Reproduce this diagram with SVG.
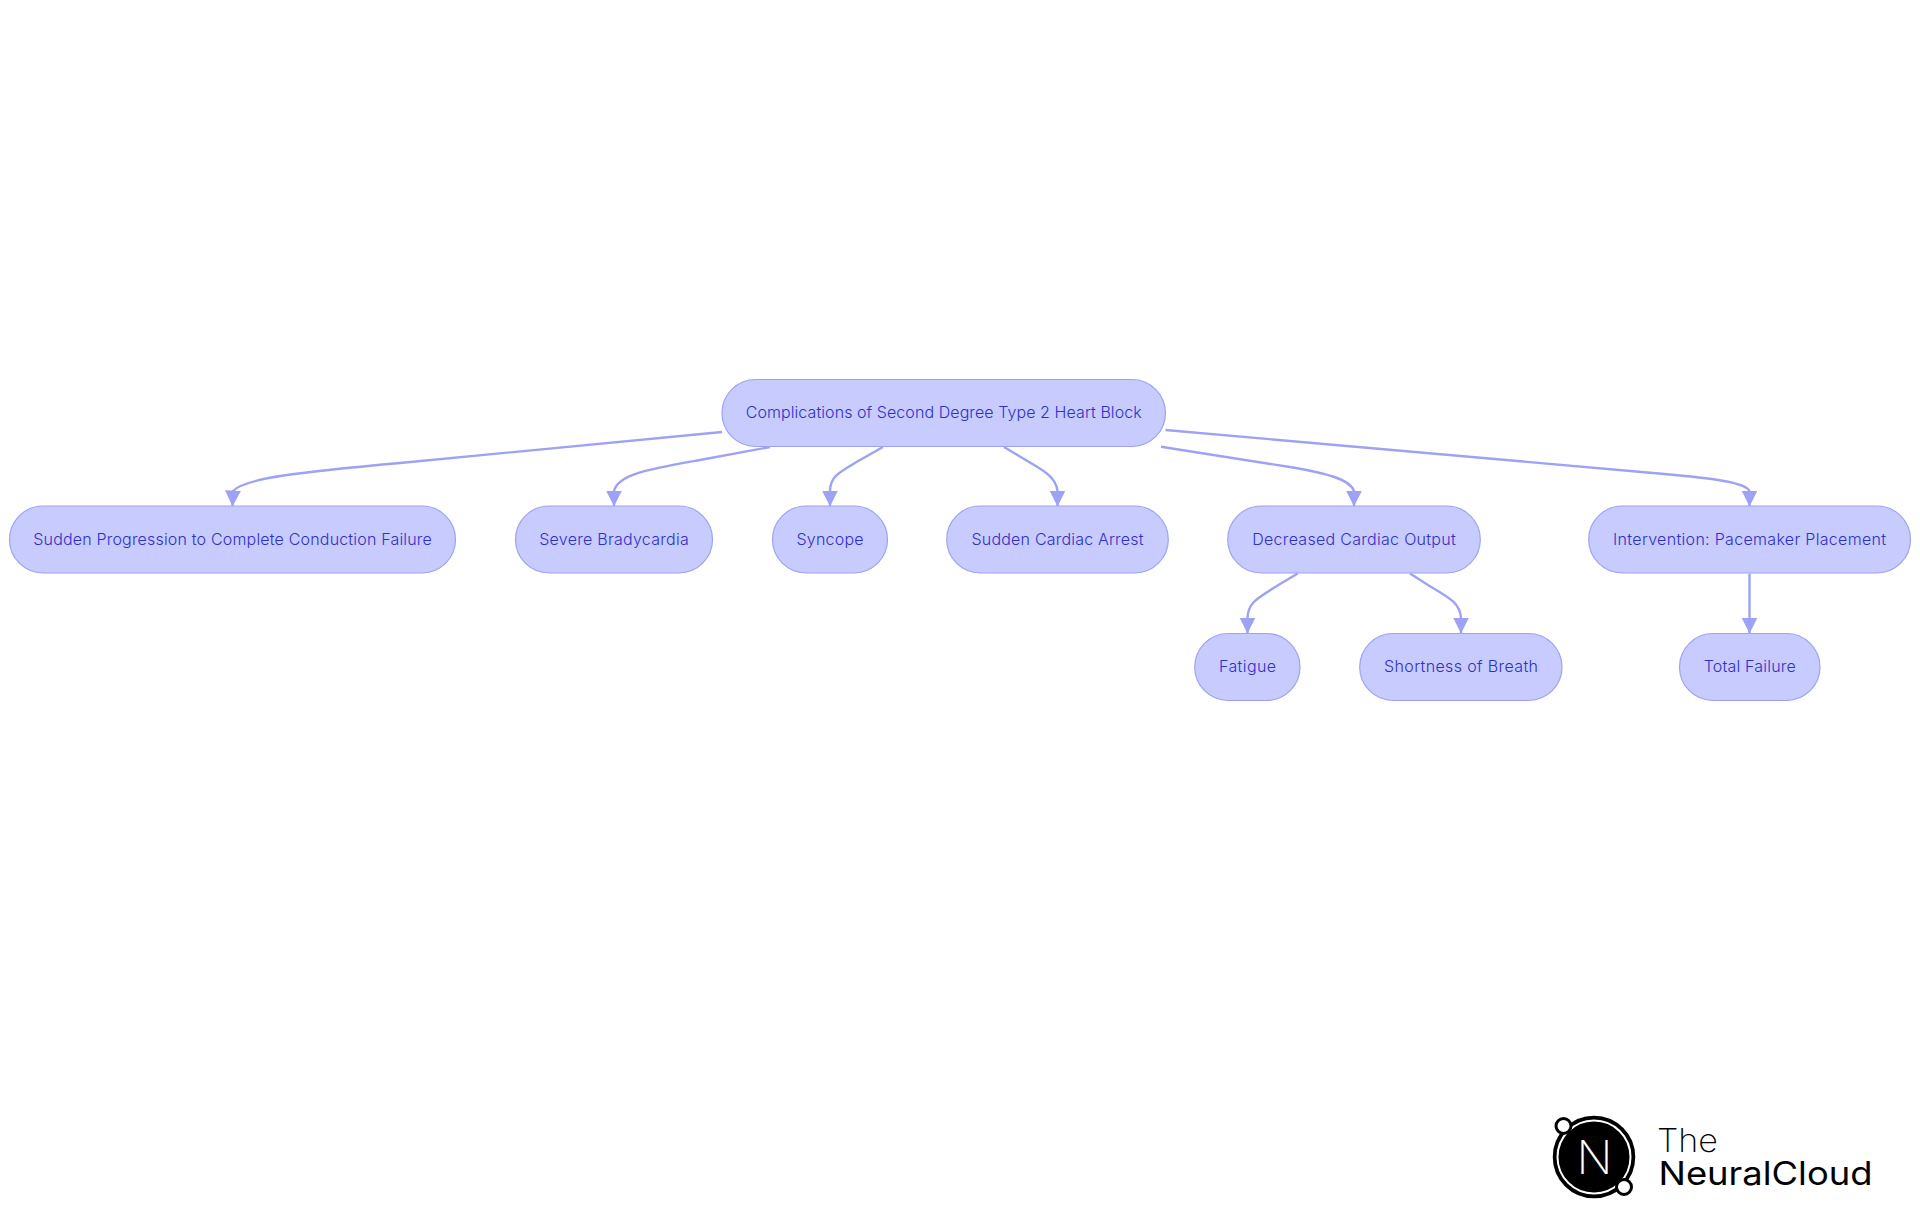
<svg xmlns="http://www.w3.org/2000/svg" width="1920" height="1215" viewBox="0 0 1920 1215">
<style>
.n rect{fill:#c8cbfd;stroke:#9da2f5;stroke-width:1.2}
.n text{font-family:Inter,"Noto Sans",sans-serif;font-size:16px;font-weight:350;fill:#2f2fcc;text-anchor:middle;dominant-baseline:central}
#connectors path{fill:none;stroke:#9da2f5;stroke-width:2.4;marker-end:url(#a)}
.l{font-family:Inter,"Noto Sans",sans-serif;fill:#000}
</style>
<defs><marker id="a" markerUnits="userSpaceOnUse" markerWidth="17" markerHeight="18" refX="16" refY="9" orient="auto"><path d="M0,1L16,9L0,17z" fill="#9da2f5"/></marker></defs>
<rect width="1920" height="1215" fill="#fff"/>
<g id="connectors">
<path d="M722,432L400,463C300,472 245,478 233,491L232.500,506.500"/>
<path d="M770,447L700,460C650,469 618,474 614,491L614,506.500"/>
<path d="M883,447L860,460C840,472 830,476 830,491L830,506.500"/>
<path d="M1004,447L1024,459C1042,470 1056,476 1057.500,491L1057.500,506.500"/>
<path d="M1161,446.700L1290,467C1325,473 1350,479 1354,491L1354,506.500"/>
<path d="M1165.500,430L1650,472.700C1700,477 1745,481 1749.500,491L1749.500,506.500"/>
<path d="M1297.700,573.500L1280,584C1258,598 1248,602 1247.500,618L1247.500,633.500"/>
<path d="M1410,573.500L1428,585C1450,598 1460,603 1461,618L1461,633.500"/>
<path d="M1749.500,573.500L1749.500,633.500"/>
</g>
<g id="root" class="n"><rect x="722" y="379.500" width="443.500" height="67" rx="33.500"/><text x="943.700" y="412" textLength="396" lengthAdjust="spacing">Complications of Second Degree Type 2 Heart Block</text></g>
<g id="n1" class="n"><rect x="9.500" y="506" width="446" height="67" rx="33.500"/><text x="232.500" y="539" textLength="398.500" lengthAdjust="spacing">Sudden Progression to Complete Conduction Failure</text></g>
<g id="n2" class="n"><rect x="515.500" y="506" width="197" height="67" rx="33.500"/><text x="614" y="539" textLength="149.500" lengthAdjust="spacing">Severe Bradycardia</text></g>
<g id="n3" class="n"><rect x="772.500" y="506" width="115" height="67" rx="33.500"/><text x="830" y="539" textLength="67" lengthAdjust="spacing">Syncope</text></g>
<g id="n4" class="n"><rect x="946.700" y="506" width="221.600" height="67" rx="33.500"/><text x="1057.500" y="539" textLength="172" lengthAdjust="spacing">Sudden Cardiac Arrest</text></g>
<g id="n5" class="n"><rect x="1227.700" y="506" width="252.600" height="67" rx="33.500"/><text x="1354" y="539" textLength="203.500" lengthAdjust="spacing">Decreased Cardiac Output</text></g>
<g id="n6" class="n"><rect x="1588.700" y="506" width="321.800" height="67" rx="33.500"/><text x="1749.600" y="539" textLength="273" lengthAdjust="spacing">Intervention: Pacemaker Placement</text></g>
<g id="n7" class="n"><rect x="1194.700" y="633.500" width="105.300" height="67" rx="33.500"/><text x="1247.500" y="666" textLength="57" lengthAdjust="spacing">Fatigue</text></g>
<g id="n8" class="n"><rect x="1359.700" y="633.500" width="202.300" height="67" rx="33.500"/><text x="1461" y="666" textLength="154" lengthAdjust="spacing">Shortness of Breath</text></g>
<g id="n9" class="n"><rect x="1679.500" y="633.500" width="140.500" height="67" rx="33.500"/><text x="1749.700" y="666" textLength="92" lengthAdjust="spacing">Total Failure</text></g>
<g id="logo">
<circle cx="1594" cy="1157" r="40" fill="#000" stroke="#000" stroke-width="2.500"/>
<circle cx="1594" cy="1157" r="36.500" fill="none" stroke="#fff" stroke-width="2"/>
<circle cx="1563.500" cy="1126" r="7.500" fill="#fff" stroke="#000" stroke-width="3"/>
<circle cx="1624" cy="1187" r="7.500" fill="#fff" stroke="#000" stroke-width="3"/>
<text x="1594.500" y="1174" text-anchor="middle" font-size="47" font-weight="200" class="l" style="fill:#fff">N</text>
<text x="1657" y="1151.500" font-size="33" font-weight="200" class="l" textLength="61" lengthAdjust="spacingAndGlyphs">The</text>
<text x="1658.500" y="1185" font-size="33" font-weight="400" class="l" textLength="214" lengthAdjust="spacingAndGlyphs">NeuralCloud</text>
</g>
</svg>
